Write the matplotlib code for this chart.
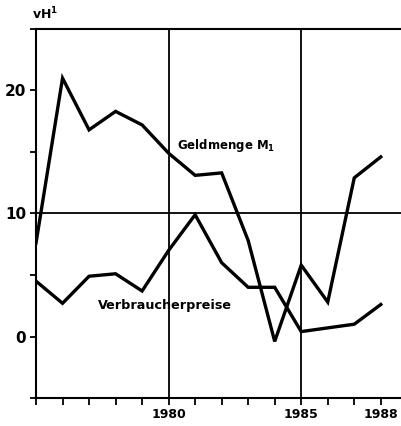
import matplotlib.pyplot as plt
from matplotlib.ticker import MultipleLocator

years = [1975, 1976, 1977, 1978, 1979, 1980, 1981, 1982, 1983, 1984, 1985, 1986, 1987, 1988]
geldmenge = [7.6, 21.0, 16.8, 18.3, 17.2, 14.9, 13.1, 13.3, 7.8, -0.4, 5.8, 2.8, 12.9, 14.6]
preise = [4.5, 2.7, 4.9, 5.1, 3.7, 7.0, 9.9, 6.0, 4.0, 4.0, 0.4, 0.7, 1.0, 2.6]

x_labels = [1980, 1985, 1988]
y_labels = [0, 10, 20]

plt.rcParams['font.family'] = 'DejaVu Sans'
plt.rcParams['font.weight'] = 'bold'

fig = plt.figure(figsize=(4.02, 4.26), dpi=100)
ax = fig.add_axes([0.0896, 0.0657, 0.9104, 0.8663])

# reference lines
ax.axhline(10, color='black', lw=1.3, zorder=1)
ax.axvline(1980, color='black', lw=1.3, zorder=1)
ax.axvline(1985, color='black', lw=1.3, zorder=1)

ax.plot(years, geldmenge, color='black', lw=2.4, solid_joinstyle='miter', zorder=3)
ax.plot(years, preise, color='black', lw=2.4, solid_joinstyle='miter', zorder=3)

ax.set_xlim(1975, 1988.8)
ax.set_ylim(-5, 25)

ax.spines['right'].set_visible(False)
for s in ['left', 'bottom', 'top']:
    ax.spines[s].set_linewidth(1.5)

ax.set_xticks(x_labels)
ax.set_xticklabels([str(v) for v in x_labels], fontsize=9, fontweight='bold')
ax.xaxis.set_minor_locator(MultipleLocator(1))
ax.tick_params(axis='x', which='both', direction='out', length=5, width=1.3, pad=2)

ax.set_yticks(y_labels)
ax.set_yticklabels([str(v) for v in y_labels], fontsize=11, fontweight='bold')
ax.yaxis.set_minor_locator(MultipleLocator(5))
ax.tick_params(axis='y', which='both', direction='out', length=4, width=1.3, pad=3)

ax.text(1980.3, 15.5, 'Geldmenge M$_\\mathbf{1}$', fontsize=8.5, fontweight='bold',
        va='center', ha='left', zorder=4)
ax.text(1977.35, 2.5, 'Verbraucherpreise', fontsize=9.2, fontweight='bold',
        va='center', ha='left', zorder=4)
ax.text(-0.01, 1.04, 'vH$^\\mathbf{1}$', transform=ax.transAxes, fontsize=9,
        fontweight='bold', ha='left', va='center')

fig.savefig('out.png', dpi=100)
